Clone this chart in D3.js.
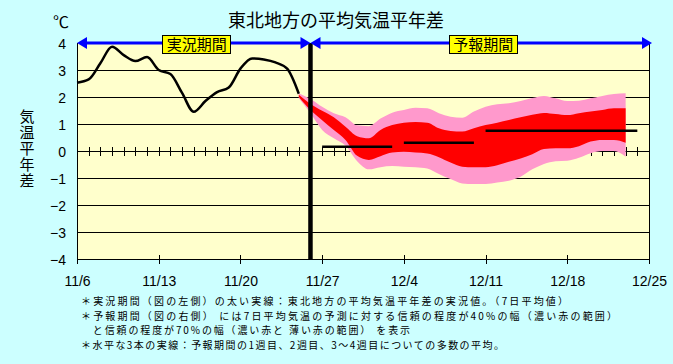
<!DOCTYPE html>
<html>
<head>
<meta charset="utf-8">
<script src="https://cdn.jsdelivr.net/npm/d3@7"></script>
<style>
  body { margin: 0; background: #ccffff; }
  svg { display: block; }
  text { font-family: "Noto Sans CJK JP", sans-serif; fill: #000; }
  .num { font-family: "Liberation Sans", Arial, sans-serif; }
</style>
</head>
<body>
<div id="chart"></div>
<script>
// chart data
let firstDay = "11/6";
let lastDay = "12/25";
let splitDay = "11/26";          // boundary between observed and forecast
let xTickLabels = ["11/6", "11/13", "11/20", "11/27", "12/4", "12/11", "12/18", "12/25"];
let yTickValues = [-4, -3, -2, -1, 0, 1, 2, 3, 4];

// observed 7-day mean anomaly, 11/6 .. 11/25
let obsValues = [2.53, 2.65, 3.25, 3.86, 3.55, 3.33, 3.48, 3.0, 2.85, 2.15,
                 1.45, 1.85, 2.18, 2.35, 3.05, 3.43, 3.39, 3.28, 3.05, 2.12];

// forecast bands, 11/25 .. 12/23
let bandStart = "11/25";
let p70hi = [2.14, 1.93, 1.64, 1.40, 1.25, 0.95, 0.92, 1.20, 1.42, 1.52,
             1.60, 1.58, 1.40, 1.27, 1.23, 1.46, 1.64, 1.73, 1.77, 1.85,
             1.96, 2.04, 1.95, 1.85, 1.86, 1.95, 2.04, 2.11, 2.14];
let p40hi = [2.08, 1.74, 1.49, 1.25, 0.90, 0.55, 0.47, 0.78, 0.96, 1.05,
             1.07, 1.05, 0.84, 0.74, 0.72, 0.84, 0.96, 1.05, 1.15, 1.25,
             1.34, 1.41, 1.37, 1.33, 1.40, 1.46, 1.52, 1.58, 1.58];
let p40lo = [2.00, 1.52, 1.14, 0.78, 0.41, -0.18, -0.33, -0.19, -0.06, -0.03,
             -0.06, -0.09, -0.23, -0.43, -0.58, -0.60, -0.60, -0.53, -0.40, -0.28,
             -0.12, 0.07, 0.10, 0.10, 0.18, 0.35, 0.41, 0.41, 0.31];
let p70lo = [1.95, 1.40, 0.78, 0.47, 0.20, -0.38, -0.68, -0.60, -0.56, -0.58,
             -0.60, -0.65, -0.85, -1.04, -1.20, -1.22, -1.22, -1.17, -1.10, -0.95,
             -0.68, -0.48, -0.38, -0.36, -0.25, -0.08, 0.0, 0.0, -0.21];

// ensemble means: week 1, week 2, weeks 3-4
let meanFrom = ["11/27", "12/4", "12/11"];
let meanTo = ["12/3", "12/10", "12/24"];
let meanValues = [0.16, 0.31, 0.75];

let notes = [
  "＊実況期間（図の左側）の太い実線：東北地方の平均気温平年差の実況値。（7日平均値）",
  "＊予報期間（図の右側） には7日平均気温の予測に対する信頼の程度が40%の幅（濃い赤の範囲）",
  "　と信頼の程度が70%の幅（濃い赤と 薄い赤の範囲） を表示",
  "＊水平な3本の実線：予報期間の1週目、2週目、3～4週目についての多数の平均。"
];
let noteLengths = [487, 536, 329, 423];

let svgWidth = 673;
let svgHeight = 364;
let margin = { top: 43, right: 24, bottom: 105, left: 77 };
let width = svgWidth - margin.left - margin.right;
let height = svgHeight - margin.top - margin.bottom;

function parseDay(s) {
  let parts = s.split("/");
  return new Date(2023, +parts[0] - 1, +parts[1]);
}

let svg = d3.select("#chart").append("svg")
  .attr("width", svgWidth)
  .attr("height", svgHeight);

let x = d3.scaleTime()
  .domain([parseDay(firstDay), parseDay(lastDay)])
  .range([0, width]);
let y = d3.scaleLinear()
  .domain([-4, 4])
  .range([height, 0]);

let chartGroup = svg.append("g")
  .attr("transform", `translate(${margin.left}, ${margin.top})`);

// plot background
chartGroup.append("rect")
  .attr("width", width)
  .attr("height", height)
  .attr("fill", "#ffffcc");

// horizontal grid lines
chartGroup.append("g")
  .selectAll("line")
  .data(yTickValues.filter(v => v > -4 && v < 4))
  .enter()
  .append("line")
  .attr("x1", 0)
  .attr("x2", width)
  .attr("y1", d => y(d))
  .attr("y2", d => y(d))
  .attr("stroke", "#000")
  .attr("stroke-width", 1)
  .attr("shape-rendering", "crispEdges");

// daily ticks on the zero line
let dayTicks = d3.timeDay.range(d3.timeDay.offset(parseDay(firstDay), 1), parseDay(lastDay));
chartGroup.append("g")
  .selectAll("line")
  .data(dayTicks)
  .enter()
  .append("line")
  .attr("x1", d => Math.round(x(d)) + 0.5)
  .attr("x2", d => Math.round(x(d)) + 0.5)
  .attr("y1", y(0) - 4)
  .attr("y2", y(0) + 5)
  .attr("stroke", "#000")
  .attr("shape-rendering", "crispEdges");

// forecast bands
let bandDays = p70hi.map((v, i) => d3.timeDay.offset(parseDay(bandStart), i));

function band(hi, lo) {
  return d3.area()
    .x((d, i) => x(bandDays[i]))
    .y0((d, i) => y(lo[i]))
    .y1((d, i) => y(hi[i]))
    .curve(d3.curveMonotoneX)(hi);
}

chartGroup.append("path")
  .attr("d", band(p70hi, p70lo))
  .attr("fill", "#ff99cc");
chartGroup.append("path")
  .attr("d", band(p40hi, p40lo))
  .attr("fill", "#ff0000");

// observed line
let obsDays = obsValues.map((v, i) => d3.timeDay.offset(parseDay(firstDay), i));
chartGroup.append("path")
  .datum(obsValues)
  .attr("d", d3.line()
    .x((d, i) => x(obsDays[i]))
    .y(d => y(d))
    .curve(d3.curveMonotoneX))
  .attr("fill", "none")
  .attr("stroke", "#000")
  .attr("stroke-width", 2.5);

// mean lines
chartGroup.append("g")
  .selectAll("line")
  .data(meanValues)
  .enter()
  .append("line")
  .attr("x1", (d, i) => x(parseDay(meanFrom[i])))
  .attr("x2", (d, i) => x(parseDay(meanTo[i])))
  .attr("y1", d => y(d))
  .attr("y2", d => y(d))
  .attr("stroke", "#000")
  .attr("stroke-width", 2.5);

// boundary between observed and forecast
let xSplit = x(parseDay(splitDay));
chartGroup.append("line")
  .attr("x1", xSplit)
  .attr("x2", xSplit)
  .attr("y1", 0)
  .attr("y2", height)
  .attr("stroke", "#000")
  .attr("stroke-width", 4.5);

// frame
chartGroup.append("path")
  .attr("d", `M0.5,0V${height + 0.5}H${width + 0.5}V0`)
  .attr("fill", "none")
  .attr("stroke", "#000")
  .attr("shape-rendering", "crispEdges");

// x axis
let xAxis = d3.axisBottom(x)
  .tickValues(xTickLabels.map(parseDay))
  .tickFormat(d3.timeFormat("%-m/%-d"))
  .tickSize(0);
let xAxisGroup = chartGroup.append("g")
  .attr("transform", `translate(0, ${height})`)
  .call(xAxis);
xAxisGroup.select(".domain").remove();
xAxisGroup.selectAll("text")
  .attr("class", "num")
  .attr("y", 27)
  .attr("dy", null)
  .attr("font-size", "14px")
  .attr("font-family", null);
xAxisGroup.selectAll(".tick").append("line")
  .attr("y1", -4)
  .attr("y2", 5)
  .attr("stroke", "#000")
  .attr("shape-rendering", "crispEdges");

// y axis labels
let yAxis = d3.axisLeft(y)
  .tickValues(yTickValues)
  .tickFormat(d => d < 0 ? "\u2212" + Math.abs(d) : d)
  .tickSize(0);
let yAxisGroup = chartGroup.append("g").call(yAxis);
yAxisGroup.select(".domain").remove();
yAxisGroup.selectAll("text")
  .attr("class", "num")
  .attr("x", -11)
  .attr("dy", "0.36em")
  .attr("font-size", "14px")
  .attr("font-family", null);

// period arrows
let arrowGroup = svg.append("g")
  .attr("transform", `translate(${margin.left}, ${margin.top})`);
let spans = [[0, xSplit], [xSplit, width + 3]];
spans.forEach(function(s) {
  arrowGroup.append("line")
    .attr("x1", s[0] + 5)
    .attr("x2", s[1] - 5)
    .attr("y1", 0)
    .attr("y2", 0)
    .attr("stroke", "#0000ff")
    .attr("stroke-width", 3);
  arrowGroup.append("path")
    .attr("d", `M${s[0]},0L${s[0] + 10},-6L${s[0] + 10},6Z`)
    .attr("fill", "#0000ff");
  arrowGroup.append("path")
    .attr("d", `M${s[1]},0L${s[1] - 10},-6L${s[1] - 10},6Z`)
    .attr("fill", "#0000ff");
});

// period labels
let periodLabels = ["実況期間", "予報期間"];
periodLabels.forEach(function(label, i) {
  let cx = (spans[i][0] + spans[i][1]) / 2 + (i === 0 ? 3 : 2);
  arrowGroup.append("rect")
    .attr("x", cx - 34)
    .attr("y", -8)
    .attr("width", 68)
    .attr("height", 18)
    .attr("fill", "#ffff00")
    .attr("stroke", "#000")
    .attr("stroke-width", 1)
    .attr("shape-rendering", "crispEdges");
  arrowGroup.append("text")
    .attr("x", cx)
    .attr("y", 6.5)
    .attr("text-anchor", "middle")
    .attr("font-size", "15px")
    .text(label);
});

// title and units
svg.append("text")
  .attr("x", 336)
  .attr("y", 27)
  .attr("text-anchor", "middle")
  .attr("font-size", "18px")
  .text("東北地方の平均気温平年差");

svg.append("text")
  .attr("x", 61)
  .attr("y", 28)
  .attr("text-anchor", "middle")
  .attr("font-size", "16px")
  .text("℃");

// vertical y title, one text element set top to bottom
svg.append("text")
  .attr("x", 27)
  .attr("y", 109)
  .attr("font-size", "15px")
  .style("writing-mode", "vertical-rl")
  .style("letter-spacing", "1px")
  .text("気温平年差");

// footnotes
svg.append("g")
  .selectAll("text")
  .data(notes)
  .enter()
  .append("text")
  .attr("x", 81)
  .attr("y", (d, i) => 305 + i * 14.5)
  .attr("font-size", "10px")
  .attr("textLength", (d, i) => noteLengths[i])
  .attr("lengthAdjust", "spacing")
  .text(d => d);
</script>
</body>
</html>
